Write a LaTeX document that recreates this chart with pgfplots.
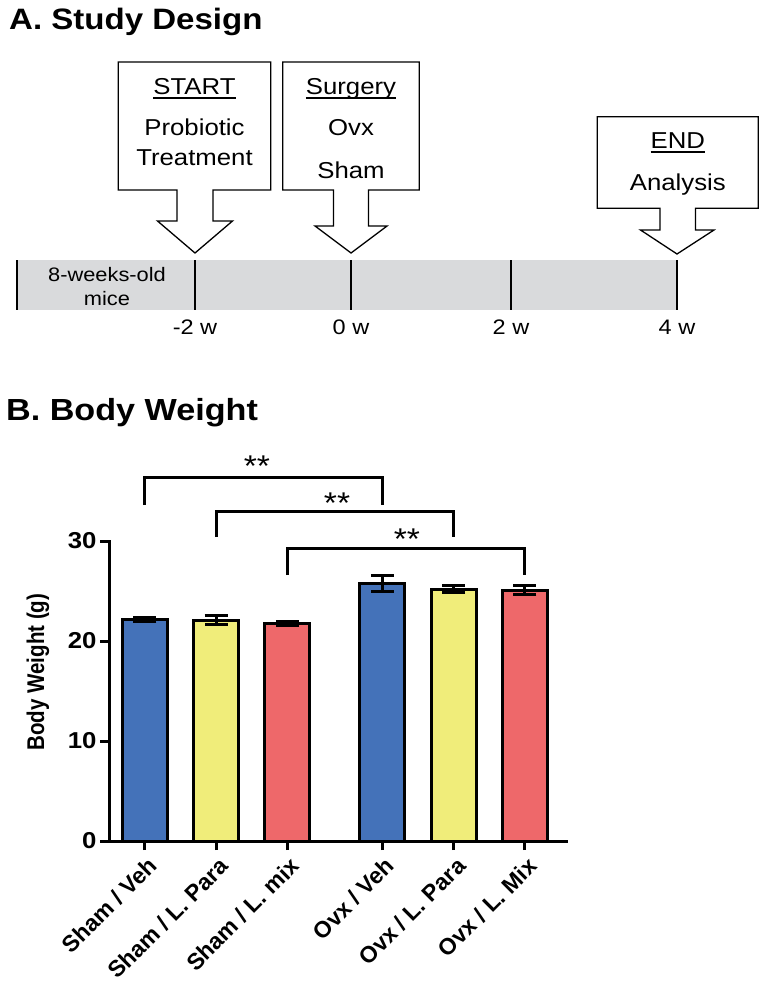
\documentclass[border=0pt]{standalone}
\usepackage{graphicx}
\usepackage{pgfplots}
\pgfplotsset{compat=1.18}
\usepackage{fontspec}
\setmainfont{Liberation Sans}[FakeStretch=1.12]
\newfontfamily\rotfont{Liberation Sans}
\definecolor{barblue}{RGB}{68,114,185}
\definecolor{baryellow}{RGB}{240,237,122}
\definecolor{barred}{RGB}{238,104,106}
\definecolor{tlgray}{RGB}{217,218,220}
\newcommand\fs[1]{\fontsize{#1}{#1}\selectfont}
\newcommand\ul[1]{\setbox0\hbox{#1}\rlap{\rule[-4.5pt]{\wd0}{1.3pt}}\box0}
\begin{document}
\begin{tikzpicture}[x=1pt,y=1pt]
\useasboundingbox (0,0) rectangle (766,-984);
\begin{scope}[yscale=-1]
  \node[anchor=base west, inner sep=0, font=\fs{29.5}\bfseries] at (9,30) {A. Study Design};
  \node[anchor=base west, inner sep=0, font=\fs{30.5}\bfseries] at (6,420.7) {B. Body Weight};
  % timeline
  \fill[tlgray] (17,260) rectangle (677,310);
  \foreach \x in {17,195,351,511,677} \draw[line width=2pt] (\x,260) -- (\x,310);
  \node[anchor=base, inner sep=0, font=\fs{21}] at (195,334.6) {-2 w};
  \node[anchor=base, inner sep=0, font=\fs{21}] at (351,334.6) {0 w};
  \node[anchor=base, inner sep=0, font=\fs{21}] at (511,334.6) {2 w};
  \node[anchor=base, inner sep=0, font=\fs{21}] at (677,334.6) {4 w};
  \node[anchor=base, inner sep=0, font=\fs{19.5}] at (107,281.7) {8-weeks-old};
  \node[anchor=base, inner sep=0, font=\fs{19.5}] at (107,305) {mice};
  % callouts
  \draw[line width=1.3pt, fill=white] (118.3,62) -- (270.7,62) -- (270.7,190) -- (213,190) -- (213,221) -- (232.5,221) -- (195,253) -- (157.5,221) -- (177,221) -- (177,190) -- (118.3,190) -- cycle;
  \draw[line width=1.3pt, fill=white] (282.7,62) -- (419.3,62) -- (419.3,190) -- (368.5,190) -- (368.5,226) -- (387,226) -- (351,253) -- (315,226) -- (333.5,226) -- (333.5,190) -- (282.7,190) -- cycle;
  \draw[line width=1.3pt, fill=white] (597.3,116.7) -- (758.3,116.7) -- (758.3,208.3) -- (695.5,208.3) -- (695.5,230) -- (714,230) -- (677,254) -- (640.5,230) -- (660,230) -- (660,208.3) -- (597.3,208.3) -- cycle;
  \node[anchor=base, inner sep=0, font=\fs{23}] at (194.5,94.3) {\ul{START}};
  \node[anchor=base, inner sep=0, font=\fs{23}] at (194.5,136) {Probiotic};
  \node[anchor=base, inner sep=0, font=\fs{23}] at (194.5,165.7) {Treatment};
  \node[anchor=base, inner sep=0, font=\fs{23}] at (351,94.3) {\ul{Surgery}};
  \node[anchor=base, inner sep=0, font=\fs{23}] at (351,136) {Ovx};
  \node[anchor=base, inner sep=0, font=\fs{23}] at (351,179) {Sham};
  \node[anchor=base, inner sep=0, font=\fs{23}] at (677.8,148.3) {\ul{END}};
  \node[anchor=base, inner sep=0, font=\fs{23}] at (677.8,190.7) {Analysis};
\end{scope}
\begin{axis}[
  at={(109pt,-841pt)}, anchor=south west,
  scale only axis, width=457.8pt, height=300pt,
  xmin=-0.505, xmax=5.92, ymin=0, ymax=30,
  axis lines=left, axis line style={line width=3pt, -, line cap=rect},
  clip=false,
  xtick={0,1,2,3.333,4.333,5.333},
  xticklabels={Sham / Veh, Sham / L. Para, Sham / L. mix, Ovx / Veh, Ovx / L. Para, Ovx / L. Mix},
  ytick={0,10,20,30},
  tick align=outside, major tick length=9pt,
  tick style={line width=3pt, black},
  xticklabel style={rotate=45, anchor=east, inner sep=0pt, xshift=-3pt, yshift=-14pt, font=\rotfont\fs{23}\bfseries},
  yticklabel style={font=\fs{23}\bfseries},
  /pgf/number format/assume math mode=true,
  ylabel={\scalebox{1}[1.18]{Body Weight (g)}},
  ylabel style={at={(axis description cs:-0.155,0.563)}, anchor=center, font=\rotfont\fs{20.5}\bfseries},
  error bars/error bar style={line width=3pt, black},
  error bars/error mark options={rotate=90, line width=3pt, mark size=11.5pt, black},
]
\addplot[ybar, bar width=45pt, bar shift=0pt, fill=barblue, draw=black, line width=3pt,
  error bars/.cd, y dir=both, y explicit]
  coordinates {(0,22.2) +- (0,0.2) (3.333,25.75) +- (0,0.8)};
\addplot[ybar, bar width=45pt, bar shift=0pt, fill=baryellow, draw=black, line width=3pt,
  error bars/.cd, y dir=both, y explicit]
  coordinates {(1,22.1) +- (0,0.43) (4.333,25.2) +- (0,0.35)};
\addplot[ybar, bar width=45pt, bar shift=0pt, fill=barred, draw=black, line width=3pt,
  error bars/.cd, y dir=both, y explicit]
  coordinates {(2,21.8) +- (0,0.2) (5.333,25.1) +- (0,0.45)};
% significance brackets
\draw[line width=3pt] (axis cs:0,33.6) -- (axis cs:0,36.33) -- (axis cs:3.333,36.33) -- (axis cs:3.333,33.6);
\draw[line width=3pt] (axis cs:1,30.4) -- (axis cs:1,33.0) -- (axis cs:4.333,33.0) -- (axis cs:4.333,30.4);
\draw[line width=3pt] (axis cs:2,26.6) -- (axis cs:2,29.3) -- (axis cs:5.333,29.3) -- (axis cs:5.333,26.6);
\node[anchor=base, inner sep=0, font=\fs{30}] at (axis cs:1.572,36.5) {**};
\node[anchor=base, inner sep=0, font=\fs{30}] at (axis cs:2.695,32.8) {**};
\node[anchor=base, inner sep=0, font=\fs{30}] at (axis cs:3.677,29.2) {**};
\end{axis}
\end{tikzpicture}
\end{document}
